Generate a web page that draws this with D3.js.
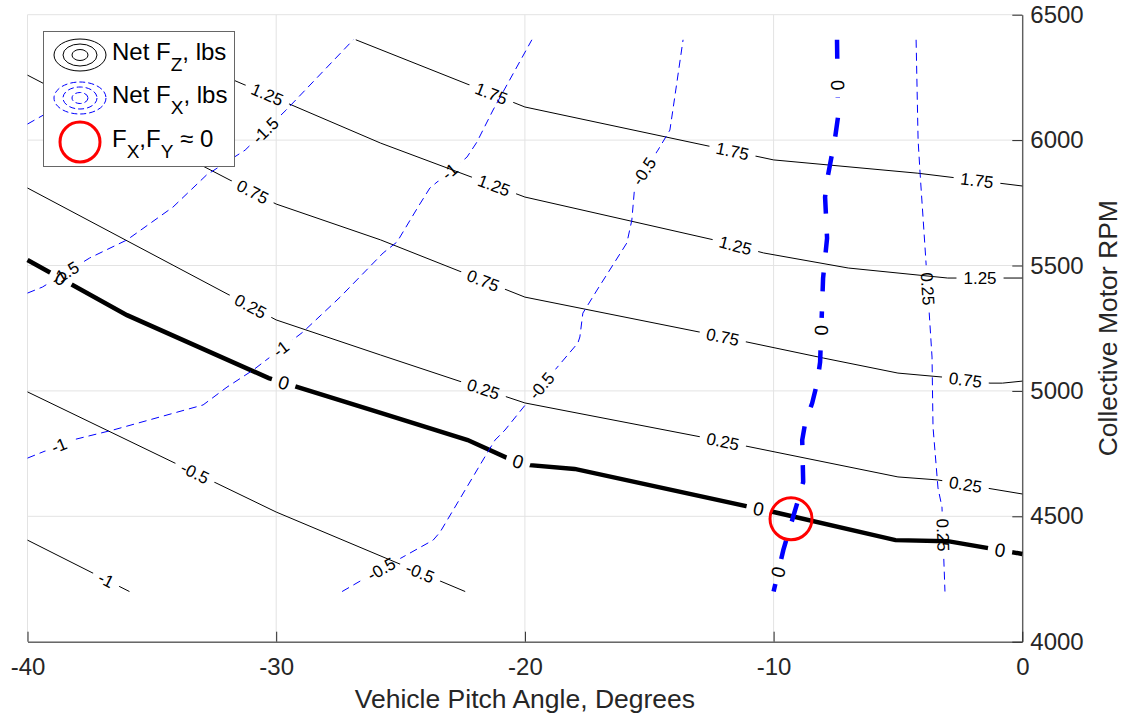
<!DOCTYPE html>
<html>
<head>
<meta charset="utf-8">
<script src="https://cdn.jsdelivr.net/npm/d3@7"></script>
<style>body{margin:0;background:#fff}</style>
</head>
<body>
<svg id="chart"></svg>
<script>
// axis ticks
const pitchTicks = [-40, -30, -20, -10, 0];
const rpmTicks = [4000, 4500, 5000, 5500, 6000, 6500];

// Net Fz contour lines, [pitch deg, rpm]
const fz175 = [[-26.8, 6400], [-20, 6132], [-10, 5921], [-4.2, 5868], [0, 5817]];
const fz125 = [[-35.5, 6400], [-25.8, 5988], [-20, 5773], [-12.4, 5602], [-10.4, 5550], [-7, 5490], [-3, 5450], [0, 5450]];
const fz075 = [[-40, 6259], [-30, 5745], [-25.8, 5602], [-20, 5374], [-13, 5235], [-8, 5131], [-5, 5071], [-3.2, 5055], [-1.3, 5031], [-0.8, 5031], [0, 5039]];
const fz025 = [[-40, 5809], [-30, 5283], [-25.8, 5143], [-20, 4952], [-12.9, 4816], [-5, 4657], [-3.4, 4645], [0, 4589]];
const fz0 = [[-40, 5522], [-36, 5302], [-30.3, 5051], [-25.8, 4912], [-22.3, 4804], [-20.7, 4732], [-19.8, 4704], [-18, 4689], [-10, 4517], [-5.1, 4405], [-3, 4401], [0, 4350]];
const fzM05 = [[-40, 4996], [-30, 4517], [-22.4, 4200]];
const fzM1 = [[-40, 4405], [-35.9, 4200]];

// where the Fz labels sit
const fz175At = [[-21.4, 6172], [-11.67, 5948], [-1.83, 5833]];
const fz125At = [[-30.45, 6160], [-21.28, 5809], [-11.55, 5574], [-1.7, 5442]];
const fz075At = [[-30.97, 5789], [-21.72, 5430], [-12.07, 5203], [-2.3, 5035]];
const fz025At = [[-31.05, 5334], [-21.68, 5003], [-12.03, 4804], [-2.3, 4617]];
const fz0At = [[-38.69, 5442], [-29.73, 5023], [-20.28, 4716], [-10.63, 4517], [-0.9, 4361]];
const fzM05At = [[-33.27, 4673], [-24.22, 4274]];
const fzM1At = [[-36.88, 4238]];

// Net Fx contour lines
const fxM2 = [[-40, 6064], [-34, 6400]];
const fxM15 = [[-40, 5390], [-39.4, 5414], [-37.5, 5530], [-36, 5602], [-34.15, 5733], [-32.8, 5861], [-31.25, 5960], [-29.6, 6120], [-26.9, 6400]];
const fxM1 = [[-40, 4732], [-38.2, 4804], [-36.56, 4844], [-32.94, 4944], [-31.98, 5015], [-30.93, 5083], [-28.92, 5235], [-27.43, 5374], [-25.7, 5550], [-25.14, 5594], [-24.3, 5733], [-23.82, 5809], [-22.33, 5932], [-21.93, 5992], [-21.28, 6120], [-19.72, 6400]];
const fxM05 = [[-27.35, 4200], [-26.55, 4246], [-24.9, 4338], [-23.69, 4405], [-23.41, 4437], [-21.52, 4752], [-21.2, 4804], [-20.8, 4844], [-19.92, 4952], [-17.87, 5191], [-17.79, 5215], [-17.67, 5310], [-17.1, 5402], [-15.9, 5590], [-15.7, 5681], [-15.58, 5821], [-14.65, 5960], [-14.17, 6040], [-14.05, 6120], [-13.64, 6400]];
const fx0 = [[-7.45, 6400], [-7.41, 6092], [-7.53, 6008], [-7.85, 5840], [-7.93, 5773], [-7.85, 5609], [-8.01, 5450], [-8.13, 5115], [-8.25, 5031], [-8.45, 4951], [-8.73, 4872], [-8.85, 4804], [-8.81, 4637], [-9.05, 4553], [-9.61, 4365], [-10.0, 4200]];
const fx025 = [[-4.27, 6400], [-4.19, 6000], [-4.11, 5868], [-3.91, 5570], [-3.63, 5135], [-3.59, 4856], [-3.39, 4613], [-3.23, 4537], [-3.11, 4200]];

const fxM15At = [[-38.45, 5462], [-30.33, 6028]];
const fxM1At = [[-38.69, 4772], [-29.77, 5163], [-23.01, 5873]];
const fxM05At = [[-25.75, 4286], [-19.27, 5015], [-15.09, 5868]];
const fx0At = [[-7.45, 6219], [-8.05, 5242], [-9.82, 4278]];
const fx025At = [[-4.0, 5406], [-3.23, 4425]];

// point where both forces vanish
const trimPoint = [[-9.3, 4490]];

const fzContours = [
  { level: "1.75", pts: fz175, at: fz175At },
  { level: "1.25", pts: fz125, at: fz125At },
  { level: "0.75", pts: fz075, at: fz075At },
  { level: "0.25", pts: fz025, at: fz025At },
  { level: "0", pts: fz0, at: fz0At },
  { level: "-0.5", pts: fzM05, at: fzM05At },
  { level: "-1", pts: fzM1, at: fzM1At }
];
const fxContours = [
  { level: "-2", pts: fxM2, at: [] },
  { level: "-1.5", pts: fxM15, at: fxM15At },
  { level: "-1", pts: fxM1, at: fxM1At },
  { level: "-0.5", pts: fxM05, at: fxM05At },
  { level: "0", pts: fx0, at: fx0At },
  { level: "0.25", pts: fx025, at: fx025At }
];

const W = 1131, H = 719;
const margin = { left: 27.5, right: 108.7, top: 14.7, bottom: 77.3 };
const font = "'Liberation Sans', Arial, Helvetica, sans-serif";
const ink = "#262626";

const svg = d3.select("#chart").attr("width", W).attr("height", H).style("display", "block");
const defs = svg.append("defs");

const x = d3.scaleLinear().domain([-40, 0]).range([margin.left, W - margin.right]);
const y = d3.scaleLinear().domain([4000, 6500]).range([H - margin.bottom, margin.top]);

// grid
const grid = svg.append("g").attr("stroke", "#e3e3e3").attr("stroke-width", 1);
grid.selectAll(".gx").data(pitchTicks).join("line")
  .attr("x1", d => x(d)).attr("x2", d => x(d))
  .attr("y1", y(6500)).attr("y2", y(4000));
grid.selectAll(".gy").data(rpmTicks).join("line")
  .attr("x1", x(-40)).attr("x2", x(0))
  .attr("y1", d => y(d)).attr("y2", d => y(d));

// axes
const xAxis = svg.append("g")
  .attr("transform", `translate(0,${y(4000)})`)
  .call(d3.axisBottom(x).tickValues(pitchTicks).tickFormat(d => String(d)).tickSizeInner(-10).tickSizeOuter(0).tickPadding(16));
const yAxis = svg.append("g")
  .attr("transform", `translate(${x(0)},0)`)
  .call(d3.axisRight(y).tickValues(rpmTicks).tickFormat(d => String(d)).tickSizeInner(-10).tickSizeOuter(0).tickPadding(8));
[xAxis, yAxis].forEach(a => {
  a.attr("font-family", font).attr("font-size", 24);
  a.selectAll("path,line").attr("stroke", ink);
  a.selectAll("text").attr("fill", ink);
});

svg.append("text")
  .attr("x", x(-20)).attr("y", 708)
  .attr("text-anchor", "middle")
  .attr("font-family", font).attr("font-size", 26.5).attr("fill", ink)
  .text("Vehicle Pitch Angle, Degrees");
svg.append("text")
  .attr("transform", `translate(1117,${(y(4000) + y(6500)) / 2}) rotate(-90)`)
  .attr("text-anchor", "middle")
  .attr("font-family", font).attr("font-size", 26.5).attr("fill", ink)
  .text("Collective Motor RPM");

const line = d3.line();

function nearestOnLine(px, p) {
  let best = null;
  for (let i = 0; i < px.length - 1; i++) {
    const [ax, ay] = px[i], [bx, by] = px[i + 1];
    const dx = bx - ax, dy = by - ay;
    let t = ((p[0] - ax) * dx + (p[1] - ay) * dy) / (dx * dx + dy * dy);
    t = Math.max(0, Math.min(1, t));
    const qx = ax + t * dx, qy = ay + t * dy;
    const d = (qx - p[0]) ** 2 + (qy - p[1]) ** 2;
    if (!best || d < best.d) {
      let a = Math.atan2(dy, dx) * 180 / Math.PI;
      if (a > 90) a -= 180;
      if (a < -90) a += 180;
      best = { x: qx, y: qy, a, d };
    }
  }
  return best;
}

function drawContours(list, opts, idPrefix) {
  const g = svg.append("g");
  const lg = svg.append("g");
  list.forEach((c, i) => {
    const px = c.pts.map(p => [x(p[0]), y(p[1])]);
    const maskId = idPrefix + i;
    const mask = defs.append("mask").attr("id", maskId)
      .attr("maskUnits", "userSpaceOnUse")
      .attr("x", 0).attr("y", 0).attr("width", W).attr("height", H);
    mask.append("rect").attr("width", W).attr("height", H).attr("fill", "#fff");
    const thick = c.level === "0";
    g.append("path")
      .attr("d", line(px))
      .attr("fill", "none")
      .attr("stroke", opts.color)
      .attr("stroke-width", thick ? opts.thickWidth : opts.width)
      .attr("stroke-dasharray", thick ? opts.thickDash : opts.dash)
      .attr("mask", `url(#${maskId})`);
    c.at.forEach(a => {
      const l = nearestOnLine(px, [x(a[0]), y(a[1])]);
      const t = lg.append("text")
        .attr("transform", `translate(${l.x},${l.y}) rotate(${l.a})`)
        .attr("text-anchor", "middle")
        .attr("dy", "0.35em")
        .attr("font-family", font)
        .attr("font-size", thick ? 19 : 17)
        .attr("fill", "#000")
        .text(c.level);
      const w = t.node().getComputedTextLength();
      mask.append("rect")
        .attr("x", -w / 2 - 7).attr("y", -9)
        .attr("width", w + 14).attr("height", 18)
        .attr("transform", `translate(${l.x},${l.y}) rotate(${l.a})`)
        .attr("fill", "#000");
    });
  });
}

drawContours(fzContours, { color: "#000", width: 1, thickWidth: 4.5, dash: null, thickDash: null }, "fz");
drawContours(fxContours, { color: "#0000ff", width: 1, thickWidth: 4.5, dash: "8,5", thickDash: "19,20" }, "fx");

svg.append("g").selectAll("circle").data(trimPoint).join("circle")
  .attr("cx", d => x(d[0])).attr("cy", d => y(d[1]))
  .attr("r", 21).attr("fill", "none").attr("stroke", "#ff0000").attr("stroke-width", 3);

// legend
const legend = svg.append("g");
legend.append("rect")
  .attr("x", 43.5).attr("y", 31.5).attr("width", 191).attr("height", 135)
  .attr("fill", "#fff").attr("stroke", "#666").attr("stroke-width", 1);

const rings = [[26, 16], [17, 11], [8, 5.5]];
legend.append("g").selectAll("ellipse").data(rings).join("ellipse")
  .attr("cx", 80).attr("cy", 55).attr("rx", d => d[0]).attr("ry", d => d[1])
  .attr("fill", "none").attr("stroke", "#000").attr("stroke-width", 1);
legend.append("g").selectAll("ellipse").data(rings).join("ellipse")
  .attr("cx", 80).attr("cy", 98).attr("rx", d => d[0]).attr("ry", d => d[1])
  .attr("fill", "none").attr("stroke", "#0000ff").attr("stroke-width", 1).attr("stroke-dasharray", "6,3");
legend.append("circle")
  .attr("cx", 80).attr("cy", 142).attr("r", 20)
  .attr("fill", "none").attr("stroke", "#ff0000").attr("stroke-width", 3);

function legendText(yb, parts) {
  const t = legend.append("text").attr("x", 112).attr("y", yb)
    .attr("font-family", font).attr("font-size", 24).attr("fill", "#000");
  parts.forEach(p => {
    const s = t.append("tspan").text(p[0]);
    if (p[1]) s.attr("dy", 11).attr("font-size", 19);
    else if (p[2]) s.attr("dy", -11);
  });
}
legendText(60, [["Net F"], ["Z", true], [", lbs", false, true]]);
legendText(103, [["Net F"], ["X", true], [", lbs", false, true]]);
legendText(147, [["F"], ["X", true], [",F", false, true], ["Y", true], [" \u2248 0", false, true]]);
</script>
</body>
</html>
